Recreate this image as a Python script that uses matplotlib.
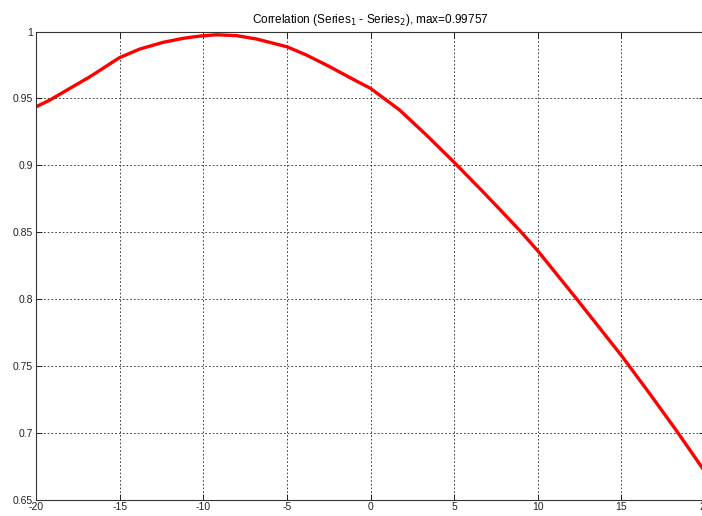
import numpy as np
import matplotlib as mpl
mpl.use("Agg")
import matplotlib.pyplot as plt

plt.rcParams['font.family'] = ['Liberation Sans', 'DejaVu Sans']
plt.rcParams['axes.unicode_minus'] = False

# values
lag = [-20, -19.16, -17.97, -16.77, -15, -13.79, -12.4, -11.2, -10.5, -10,
       -9.2, -8, -6.82, -5, -3.83, -2.44, -1.24, -0.65, 0, 1.74, 3.34, 5,
       6.72, 7.72, 8.91, 10, 12.3, 15, 16.68, 18.27, 19.79, 20]
corr = [0.9437, 0.9488, 0.9575, 0.9662, 0.9805, 0.9869, 0.9919, 0.9949, 0.9961, 0.9968,
        0.99757, 0.9969, 0.9944, 0.9886, 0.9824, 0.9737, 0.9656, 0.9617, 0.9575, 0.9413,
        0.9226, 0.9022, 0.8802, 0.8671, 0.8514, 0.8360, 0.8004, 0.7577, 0.7294, 0.7019,
        0.6745, 0.6707]
max_corr = 0.99757

xticks = [-20, -15, -10, -5, 0, 5, 10, 15, 20]
yticks = [0.65, 0.7, 0.75, 0.8, 0.85, 0.9, 0.95, 1]
ytick_labels = ['0.65', '0.7', '0.75', '0.8', '0.85', '0.9', '0.95', '1']

fig = plt.figure(figsize=(7.02, 5.16), dpi=100)
ax = fig.add_axes([36/702, 16.5/516, 669/702, 468/516])

ax.plot(lag, corr, color='#ff0000', linewidth=2.4,
        solid_joinstyle='round', solid_capstyle='round')

ax.set_xlim(-20, 20)
ax.set_ylim(0.65, 1)
ax.set_xticks(xticks)
ax.set_yticks(yticks)
ax.set_yticklabels(ytick_labels)
ax.tick_params(direction='in', length=4, width=0.7, labelsize=7.5, pad=2,
               top=True, right=True, colors='#222222')
ax.grid(True, color='#222222', linestyle=(0, (2, 2.5)), linewidth=0.6)
for s in ax.spines.values():
    s.set_color('#333333')
    s.set_linewidth(0.8)

ax.set_title(f'Correlation (Series$_1$ - Series$_2$), max={max_corr}',
             fontsize=8.5, pad=6)

fig.savefig('out.png', dpi=100)
